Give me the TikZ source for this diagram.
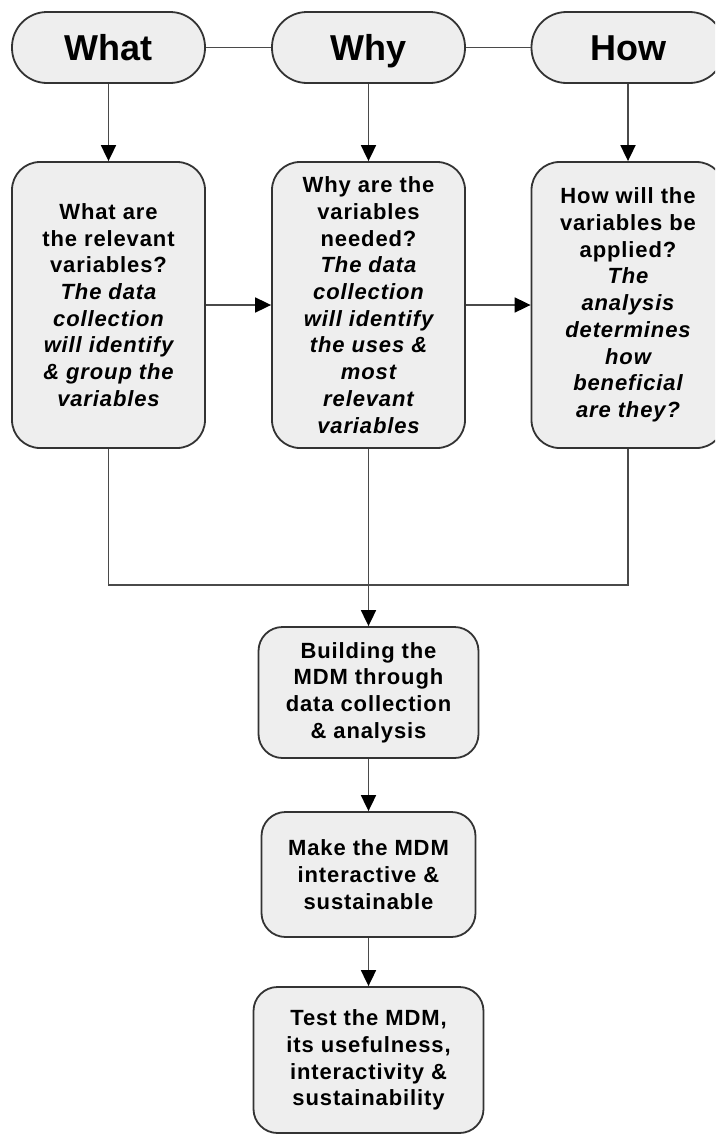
\documentclass[tikz,border=0pt]{standalone}
\usepackage{fontspec}
\setmainfont{Liberation Sans}
\newfontfamily\boxfont[LetterSpace=4]{Liberation Sans}
\usetikzlibrary{arrows.meta}
\definecolor{boxfill}{HTML}{EEEEEE}
\definecolor{boxline}{HTML}{333333}
\definecolor{wire}{HTML}{4A4A4A}
\begin{document}
\begin{tikzpicture}[x=1pt,y=-1pt,
  header/.style={draw=boxline, line width=1.8pt, fill=boxfill, rounded corners=35pt,
    minimum width=193pt, minimum height=71pt, inner sep=0pt,
    text height=26pt, text depth=0pt,
    font=\fontsize{36}{40}\selectfont\bfseries},
  tallbox/.style={draw=boxline, line width=1.8pt, fill=boxfill, rounded corners=28pt,
    minimum width=193pt, minimum height=286pt, inner sep=0pt, align=center,
    font=\boxfont\fontsize{22}{26.7}\selectfont\bfseries},
  stepbox/.style={draw=boxline, line width=1.8pt, fill=boxfill, rounded corners=24pt,
    inner sep=0pt, align=center,
    font=\boxfont\fontsize{22}{26.7}\selectfont\bfseries},
  link/.style={draw=wire, line width=1.8pt},
  arrow/.style={link, -{Triangle[length=16pt,width=15pt,fill=black,color=black]}}
]
\useasboundingbox (0,0) rectangle (715,1135);
\clip (0,0) rectangle (715,1135);

% top row
\node[header] (what) at (108.5,47.5) {What};
\node[header] (why)  at (368.5,47.5) {Why};
\node[header] (how)  at (628,47.5) {How};

% question boxes
\node[tallbox] (whatq) at (108.5,305) {What are\\the relevant\\variables?\\
  \itshape The data\\\itshape collection\\\itshape will identify\\\itshape \& group the\\\itshape variables};
\node[tallbox] (whyq) at (368.5,305) {Why are the\\variables\\needed?\\
  \itshape The data\\\itshape collection\\\itshape will identify\\\itshape the uses \&\\\itshape most\\\itshape relevant\\\itshape variables};
\node[tallbox] (howq) at (628,305) {How will the\\variables be\\applied?\\
  \itshape The\\\itshape analysis\\\itshape determines\\\itshape how\\\itshape beneficial\\\itshape are they?};

% process steps
\node[stepbox, minimum width=220pt, minimum height=131pt] (build) at (368.5,692.5)
  {Building the\\MDM through\\data collection\\\& analysis};
\node[stepbox, minimum width=214pt, minimum height=125pt] (make) at (368.5,874.5)
  {Make the MDM\\interactive \&\\sustainable};
\node[stepbox, minimum width=230pt, minimum height=146pt] (test) at (368.5,1060)
  {Test the MDM,\\its usefulness,\\interactivity \&\\sustainability};

% connectors
\draw[link] (what.east) -- (why.west);
\draw[link] (why.east) -- (how.west);
\draw[arrow] (what.south) -- (whatq.north);
\draw[arrow] (why.south) -- (whyq.north);
\draw[arrow] (how.south) -- (howq.north);
\draw[arrow] (whatq.east) -- (whyq.west);
\draw[arrow] (whyq.east) -- (howq.west);

\coordinate (join) at (368.5,585);
\draw[link] (whatq.south) |- (join) -| (howq.south);
\draw[arrow] (whyq.south) -- (build.north);
\draw[arrow] (build.south) -- (make.north);
\draw[arrow] (make.south) -- (test.north);
\end{tikzpicture}
\end{document}
